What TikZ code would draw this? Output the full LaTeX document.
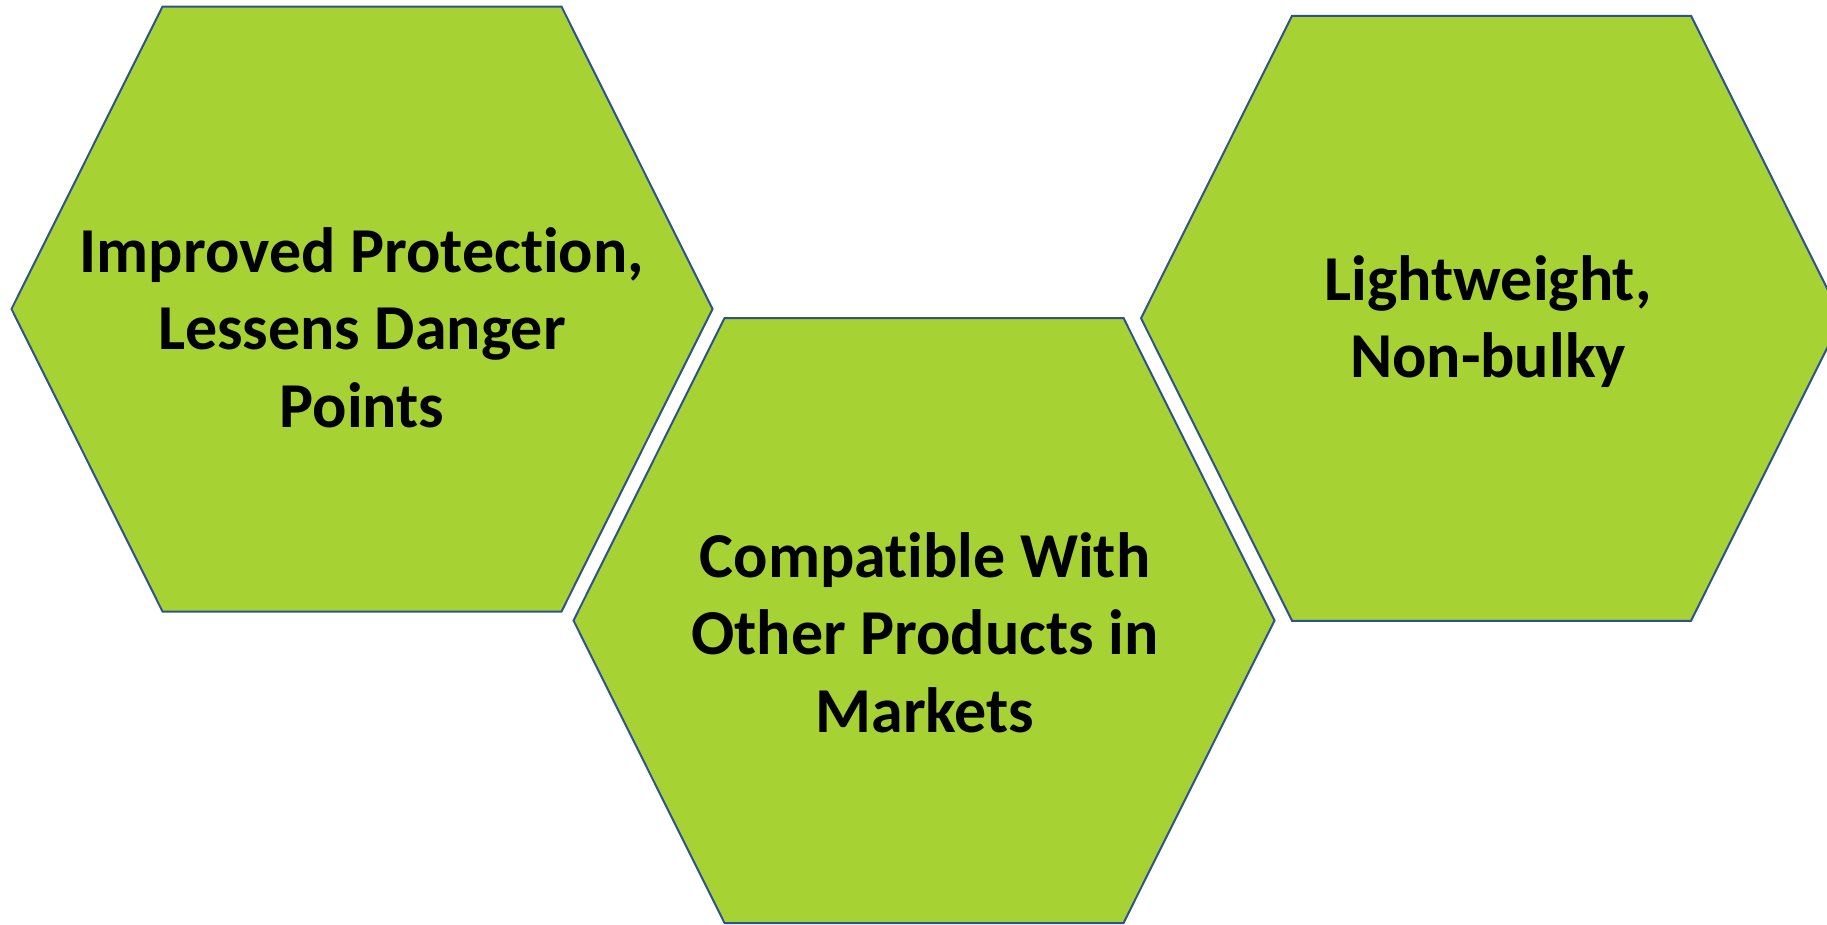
\documentclass[tikz,border=0pt]{standalone}
\usepackage{fontspec}
\setmainfont{Carlito}[Ligatures=NoCommon]
\definecolor{hexgreen}{RGB}{166,210,52}
\definecolor{hexblue}{RGB}{47,82,143}
\tikzset{
  hexface/.style={fill=hexgreen, draw=hexblue, line width=2pt, line join=miter},
  hexcell/.pic={
    \draw[hexface] (-350.5,0) -- (-199.5,-302.5) -- (199.5,-302.5) -- (350.5,0)
      -- (199.5,302.5) -- (-199.5,302.5) -- cycle;
  },
  % anchor=base sits on the baseline of the last caption line
  celltext/.style={align=center, inner sep=0pt, anchor=base, text=black,
    font=\fontsize{64}{77.5}\selectfont\bfseries}
}
\begin{document}
\begin{tikzpicture}[x=1pt, y=-1pt]
  \useasboundingbox (0,0) rectangle (1827,924);
  \clip (0,0) rectangle (1827,924);
  % three honeycomb cells
  \pic at (362,309) {hexcell};
  \pic at (924,620.5) {hexcell};
  \pic at (1491.5,318.25) {hexcell};
  % cell captions
  \node[celltext] (protection) at (362,427) {Improved Protection,\\Lessens Danger\\Points};
  \node[celltext] (compatible) at (925,732) {Compatible With\\Other Products in\\Markets};
  \node[celltext] (lightweight) at (1488,377.5) {Lightweight,\\Non-bulky};
\end{tikzpicture}
\end{document}
